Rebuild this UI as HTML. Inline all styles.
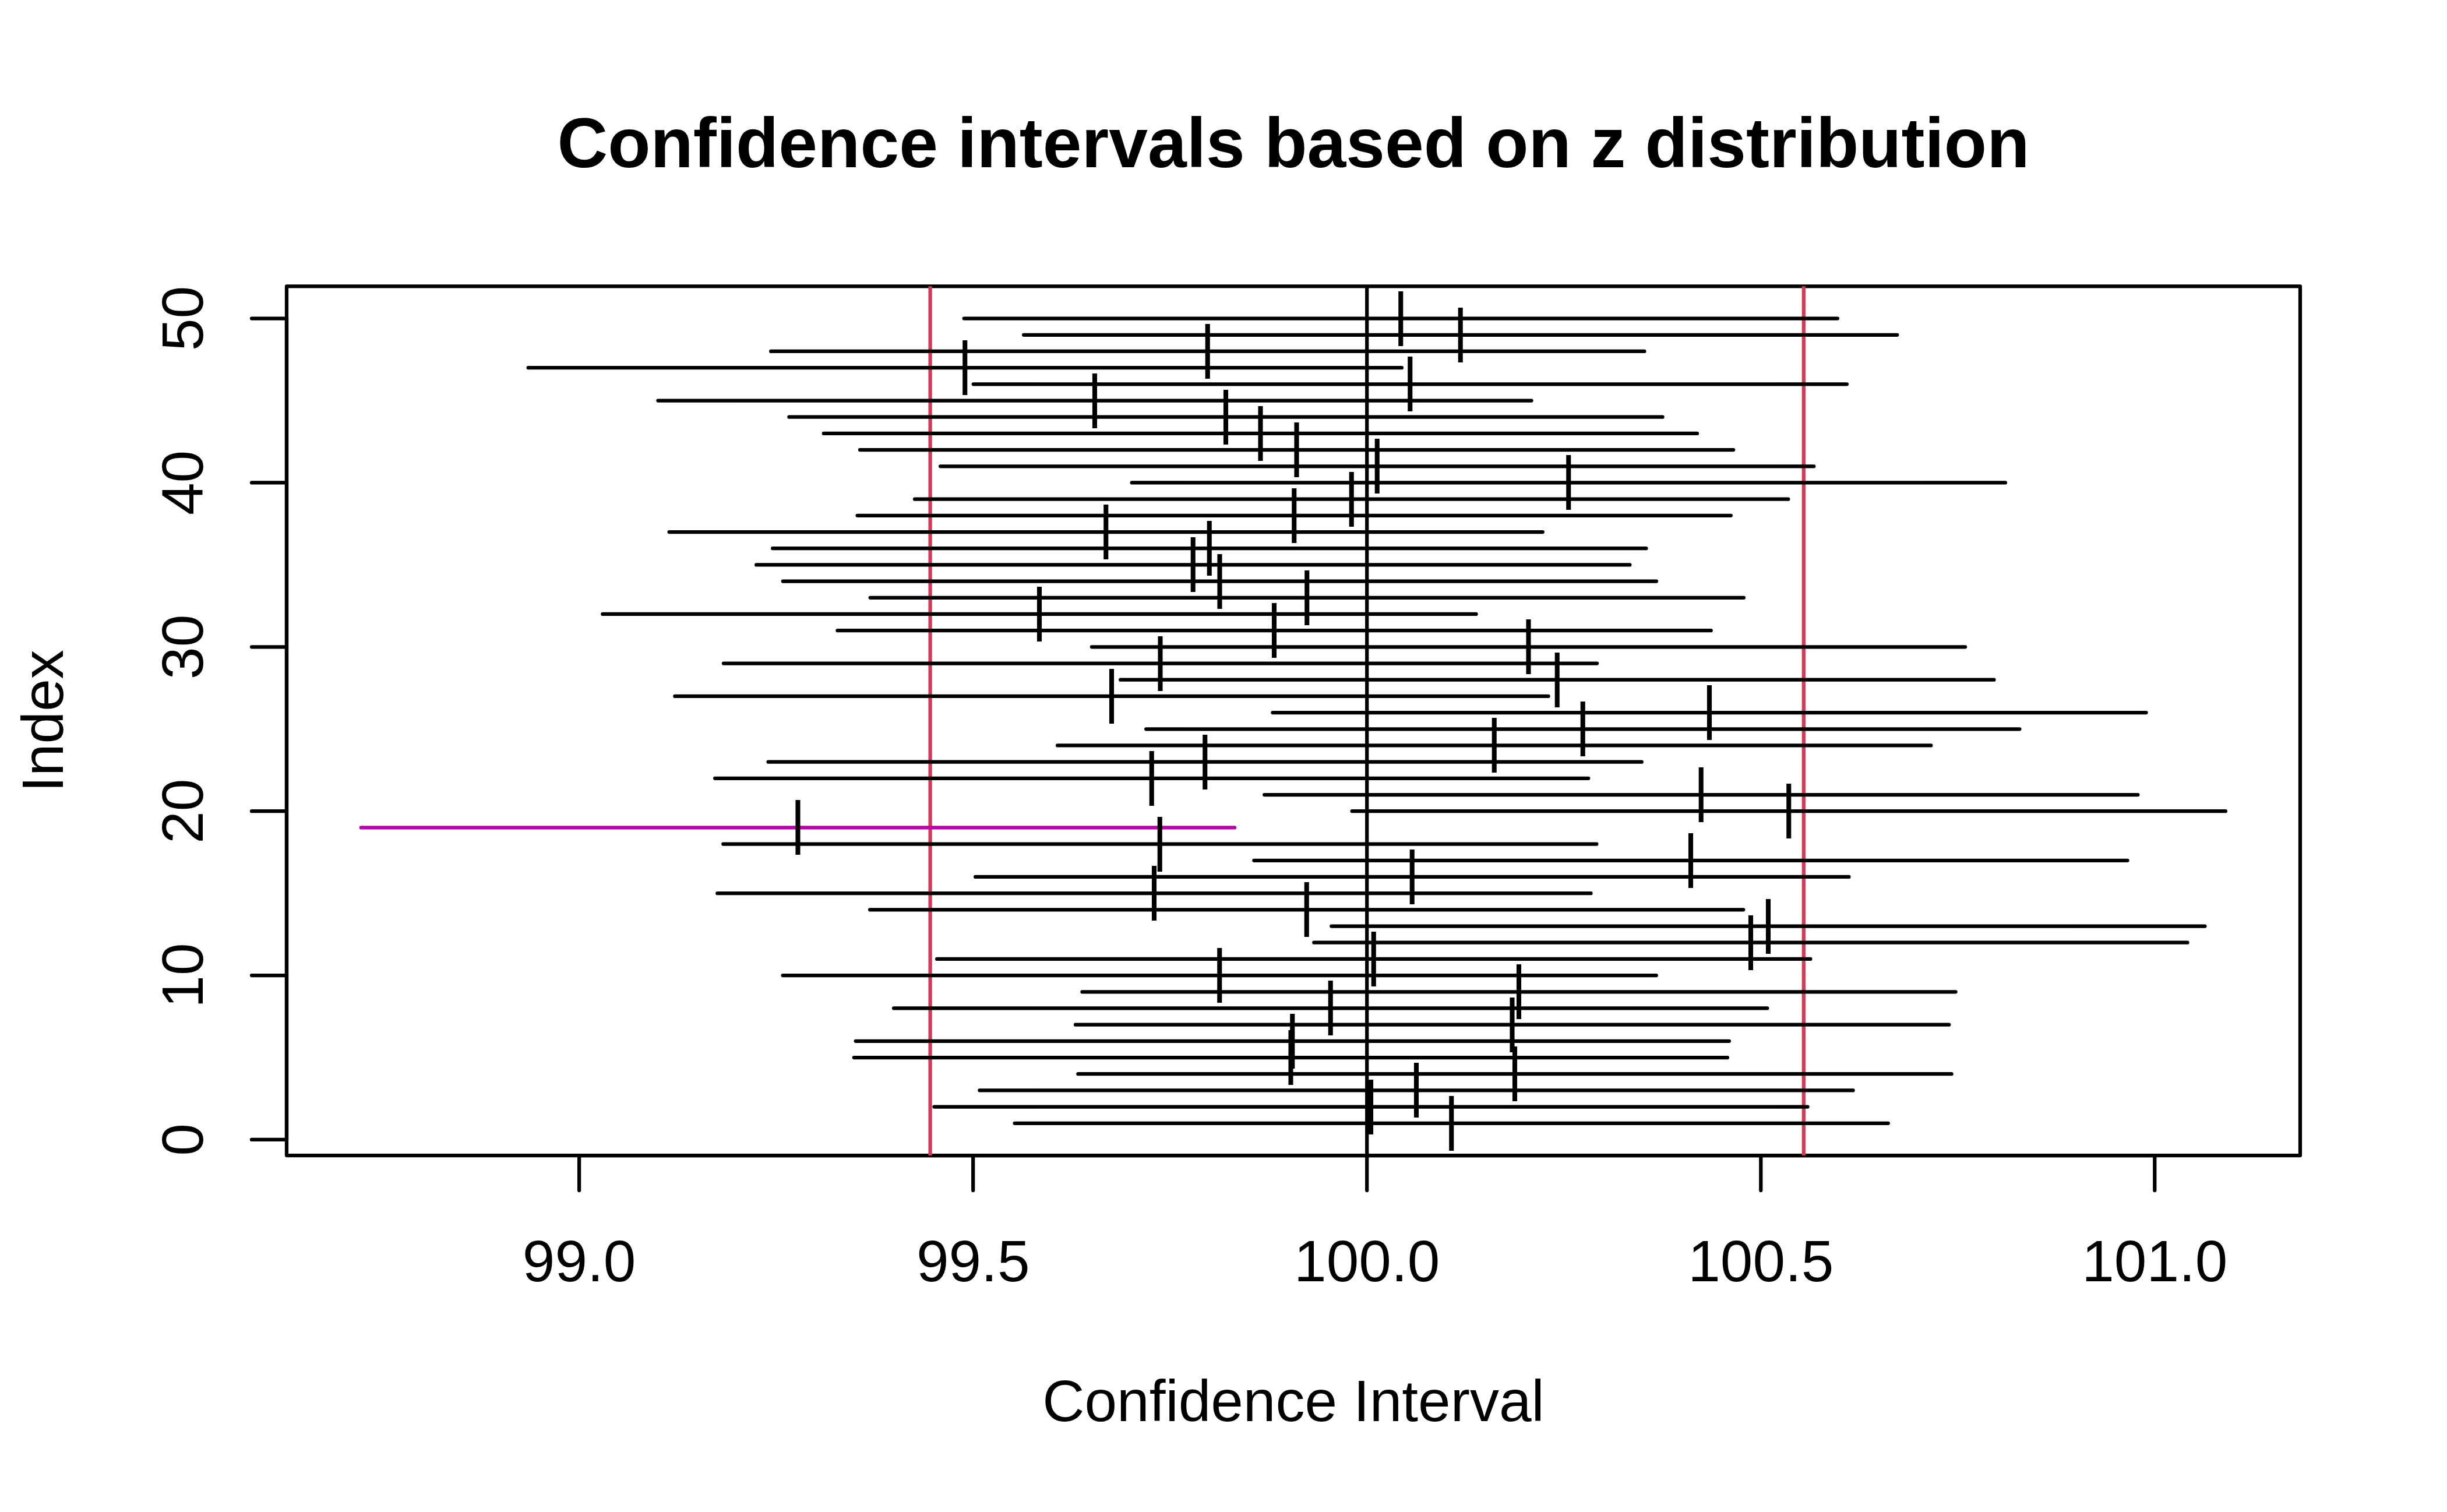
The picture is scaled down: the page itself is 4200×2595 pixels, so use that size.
<!DOCTYPE html>
<html lang="en"><head><meta charset="utf-8"><title>Confidence intervals based on z distribution</title>
<style>
html,body{margin:0;padding:0;background:#fff;}
body{width:4200px;height:2595px;overflow:hidden;}
svg{display:block;}
text{font-family:"Liberation Sans",sans-serif;fill:#000;}
.t{font-size:100px;}
.pt{font-size:100px;text-anchor:middle;}
</style></head><body>
<svg width="4200" height="2595" viewBox="0 0 4200 2595">
<rect width="4200" height="2595" fill="#fff"/>
<defs><clipPath id="pc"><rect x="492" y="491.3" width="3456" height="1491.7"/></clipPath></defs>
<g fill="none" stroke="#000" stroke-width="6.25" stroke-linecap="round" stroke-linejoin="round">
<rect x="492" y="491.3" width="3456" height="1491.7"/>
<path d="M994.1 1983 H3698.3"/>
<path d="M994.1 1983 v60"/>
<path d="M1670.2 1983 v60"/>
<path d="M2346.2 1983 v60"/>
<path d="M3022.3 1983 v60"/>
<path d="M3698.3 1983 v60"/>
<path d="M492 1955.97 V546.62"/>
<path d="M492 1955.97 h-60"/>
<path d="M492 1674.10 h-60"/>
<path d="M492 1392.23 h-60"/>
<path d="M492 1110.36 h-60"/>
<path d="M492 828.49 h-60"/>
<path d="M492 546.62 h-60"/>
</g>
<g clip-path="url(#pc)" fill="none" stroke-width="6.25" stroke-linecap="round">
<line x1="1596.6" y1="400" x2="1596.6" y2="2100" stroke="#D53A59"/>
<line x1="3095.8" y1="400" x2="3095.8" y2="2100" stroke="#D53A59"/>
<line x1="2346.2" y1="400" x2="2346.2" y2="2100" stroke="#000"/>
<line x1="1741.6" y1="1927.78" x2="3240.8" y2="1927.78" stroke="#000"/>
<line x1="1603.4" y1="1899.60" x2="3102.6" y2="1899.60" stroke="#000"/>
<line x1="1681.4" y1="1871.41" x2="3180.6" y2="1871.41" stroke="#000"/>
<line x1="1850.4" y1="1843.22" x2="3349.6" y2="1843.22" stroke="#000"/>
<line x1="1465.8" y1="1815.04" x2="2965.0" y2="1815.04" stroke="#000"/>
<line x1="1468.7" y1="1786.85" x2="2967.9" y2="1786.85" stroke="#000"/>
<line x1="1846.0" y1="1758.66" x2="3345.2" y2="1758.66" stroke="#000"/>
<line x1="1534.1" y1="1730.47" x2="3033.3" y2="1730.47" stroke="#000"/>
<line x1="1857.4" y1="1702.29" x2="3356.6" y2="1702.29" stroke="#000"/>
<line x1="1343.6" y1="1674.10" x2="2842.8" y2="1674.10" stroke="#000"/>
<line x1="1608.2" y1="1645.91" x2="3107.4" y2="1645.91" stroke="#000"/>
<line x1="2255.3" y1="1617.73" x2="3754.5" y2="1617.73" stroke="#000"/>
<line x1="2285.3" y1="1589.54" x2="3784.5" y2="1589.54" stroke="#000"/>
<line x1="1493.1" y1="1561.35" x2="2992.3" y2="1561.35" stroke="#000"/>
<line x1="1231.3" y1="1533.16" x2="2730.5" y2="1533.16" stroke="#000"/>
<line x1="1674.2" y1="1504.98" x2="3173.4" y2="1504.98" stroke="#000"/>
<line x1="2152.3" y1="1476.79" x2="3651.5" y2="1476.79" stroke="#000"/>
<line x1="1241.2" y1="1448.60" x2="2740.4" y2="1448.60" stroke="#000"/>
<line x1="619.8" y1="1420.42" x2="2119.0" y2="1420.42" stroke="#BE00AF"/>
<line x1="2320.7" y1="1392.23" x2="3819.9" y2="1392.23" stroke="#000"/>
<line x1="2170.2" y1="1364.04" x2="3669.4" y2="1364.04" stroke="#000"/>
<line x1="1227.1" y1="1335.86" x2="2726.3" y2="1335.86" stroke="#000"/>
<line x1="1318.6" y1="1307.67" x2="2817.8" y2="1307.67" stroke="#000"/>
<line x1="1815.1" y1="1279.48" x2="3314.3" y2="1279.48" stroke="#000"/>
<line x1="1967.2" y1="1251.30" x2="3466.4" y2="1251.30" stroke="#000"/>
<line x1="2184.4" y1="1223.11" x2="3683.6" y2="1223.11" stroke="#000"/>
<line x1="1158.4" y1="1194.92" x2="2657.6" y2="1194.92" stroke="#000"/>
<line x1="1923.2" y1="1166.73" x2="3422.4" y2="1166.73" stroke="#000"/>
<line x1="1241.9" y1="1138.55" x2="2741.1" y2="1138.55" stroke="#000"/>
<line x1="1873.9" y1="1110.36" x2="3373.1" y2="1110.36" stroke="#000"/>
<line x1="1437.5" y1="1082.17" x2="2936.7" y2="1082.17" stroke="#000"/>
<line x1="1034.4" y1="1053.99" x2="2533.6" y2="1053.99" stroke="#000"/>
<line x1="1493.7" y1="1025.80" x2="2992.9" y2="1025.80" stroke="#000"/>
<line x1="1343.8" y1="997.61" x2="2843.0" y2="997.61" stroke="#000"/>
<line x1="1298.2" y1="969.42" x2="2797.4" y2="969.42" stroke="#000"/>
<line x1="1326.2" y1="941.24" x2="2825.4" y2="941.24" stroke="#000"/>
<line x1="1148.6" y1="913.05" x2="2647.8" y2="913.05" stroke="#000"/>
<line x1="1471.6" y1="884.86" x2="2970.8" y2="884.86" stroke="#000"/>
<line x1="1570.1" y1="856.68" x2="3069.3" y2="856.68" stroke="#000"/>
<line x1="1942.7" y1="828.49" x2="3441.9" y2="828.49" stroke="#000"/>
<line x1="1614.1" y1="800.30" x2="3113.3" y2="800.30" stroke="#000"/>
<line x1="1476.0" y1="772.12" x2="2975.2" y2="772.12" stroke="#000"/>
<line x1="1413.8" y1="743.93" x2="2913.0" y2="743.93" stroke="#000"/>
<line x1="1354.4" y1="715.74" x2="2853.6" y2="715.74" stroke="#000"/>
<line x1="1129.4" y1="687.56" x2="2628.6" y2="687.56" stroke="#000"/>
<line x1="1670.7" y1="659.37" x2="3169.9" y2="659.37" stroke="#000"/>
<line x1="906.7" y1="631.18" x2="2405.9" y2="631.18" stroke="#000"/>
<line x1="1323.2" y1="602.99" x2="2822.4" y2="602.99" stroke="#000"/>
<line x1="1757.1" y1="574.81" x2="3256.3" y2="574.81" stroke="#000"/>
<line x1="1654.7" y1="546.62" x2="3153.9" y2="546.62" stroke="#000"/>
<text class="pt" x="2491.2" y="1953.78">|</text>
<text class="pt" x="2353.0" y="1925.60">|</text>
<text class="pt" x="2431.0" y="1897.41">|</text>
<text class="pt" x="2600.0" y="1869.22">|</text>
<text class="pt" x="2215.4" y="1841.04">|</text>
<text class="pt" x="2218.3" y="1812.85">|</text>
<text class="pt" x="2595.6" y="1784.66">|</text>
<text class="pt" x="2283.7" y="1756.47">|</text>
<text class="pt" x="2607.0" y="1728.29">|</text>
<text class="pt" x="2093.2" y="1700.10">|</text>
<text class="pt" x="2357.8" y="1671.91">|</text>
<text class="pt" x="3004.9" y="1643.73">|</text>
<text class="pt" x="3034.9" y="1615.54">|</text>
<text class="pt" x="2242.7" y="1587.35">|</text>
<text class="pt" x="1980.9" y="1559.16">|</text>
<text class="pt" x="2423.8" y="1530.98">|</text>
<text class="pt" x="2901.9" y="1502.79">|</text>
<text class="pt" x="1990.8" y="1474.60">|</text>
<text class="pt" x="1369.4" y="1446.42">|</text>
<text class="pt" x="3070.3" y="1418.23">|</text>
<text class="pt" x="2919.8" y="1390.04">|</text>
<text class="pt" x="1976.7" y="1361.86">|</text>
<text class="pt" x="2068.2" y="1333.67">|</text>
<text class="pt" x="2564.7" y="1305.48">|</text>
<text class="pt" x="2716.8" y="1277.30">|</text>
<text class="pt" x="2934.0" y="1249.11">|</text>
<text class="pt" x="1908.0" y="1220.92">|</text>
<text class="pt" x="2672.8" y="1192.73">|</text>
<text class="pt" x="1991.5" y="1164.55">|</text>
<text class="pt" x="2623.5" y="1136.36">|</text>
<text class="pt" x="2187.1" y="1108.17">|</text>
<text class="pt" x="1784.0" y="1079.99">|</text>
<text class="pt" x="2243.3" y="1051.80">|</text>
<text class="pt" x="2093.4" y="1023.61">|</text>
<text class="pt" x="2047.8" y="995.42">|</text>
<text class="pt" x="2075.8" y="967.24">|</text>
<text class="pt" x="1898.2" y="939.05">|</text>
<text class="pt" x="2221.2" y="910.86">|</text>
<text class="pt" x="2319.7" y="882.68">|</text>
<text class="pt" x="2692.3" y="854.49">|</text>
<text class="pt" x="2363.7" y="826.30">|</text>
<text class="pt" x="2225.6" y="798.12">|</text>
<text class="pt" x="2163.4" y="769.93">|</text>
<text class="pt" x="2104.0" y="741.74">|</text>
<text class="pt" x="1879.0" y="713.56">|</text>
<text class="pt" x="2420.3" y="685.37">|</text>
<text class="pt" x="1656.3" y="657.18">|</text>
<text class="pt" x="2072.8" y="628.99">|</text>
<text class="pt" x="2506.7" y="600.81">|</text>
<text class="pt" x="2404.3" y="572.62">|</text>
</g>
<text class="t" text-anchor="middle" x="994.1" y="2198.6">99.0</text>
<text class="t" text-anchor="middle" x="1670.2" y="2198.6">99.5</text>
<text class="t" text-anchor="middle" x="2346.2" y="2198.6">100.0</text>
<text class="t" text-anchor="middle" x="3022.3" y="2198.6">100.5</text>
<text class="t" text-anchor="middle" x="3698.3" y="2198.6">101.0</text>
<text class="t" text-anchor="middle" transform="translate(348 1955.97) rotate(-90)">0</text>
<text class="t" text-anchor="middle" transform="translate(348 1674.10) rotate(-90)">10</text>
<text class="t" text-anchor="middle" transform="translate(348 1392.23) rotate(-90)">20</text>
<text class="t" text-anchor="middle" transform="translate(348 1110.36) rotate(-90)">30</text>
<text class="t" text-anchor="middle" transform="translate(348 828.49) rotate(-90)">40</text>
<text class="t" text-anchor="middle" transform="translate(348 546.62) rotate(-90)">50</text>
<text class="t" text-anchor="middle" x="2220" y="2439">Confidence Interval</text>
<text class="t" text-anchor="middle" transform="translate(108 1237.5) rotate(-90)">Index</text>
<text text-anchor="middle" x="2220" y="287.3" style="font-size:120px;font-weight:bold">Confidence intervals based on z distribution</text>
</svg>
</body></html>
